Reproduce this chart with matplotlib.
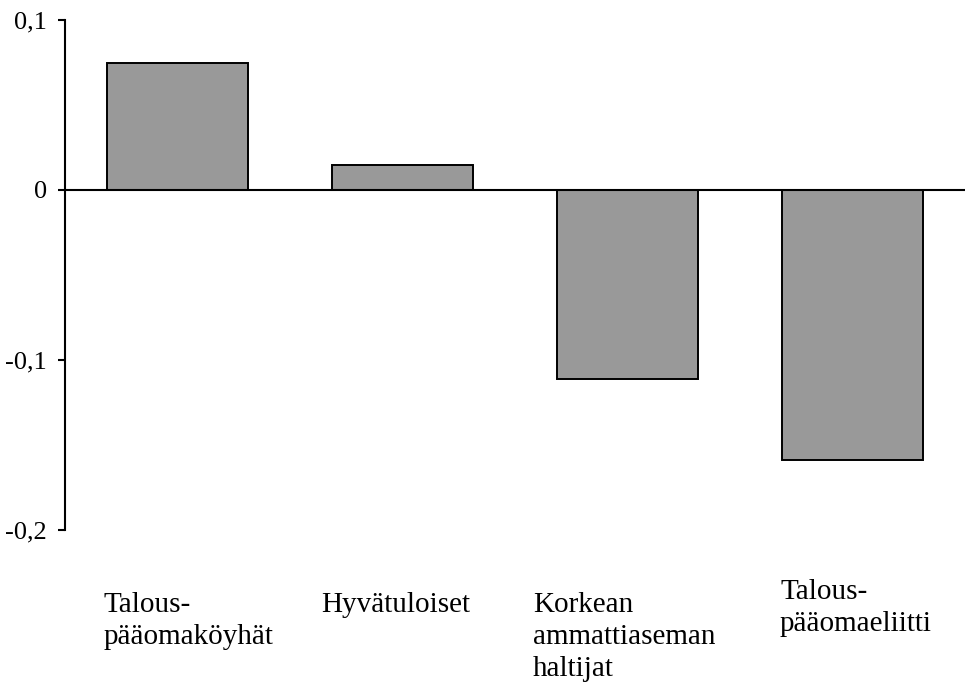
import matplotlib
matplotlib.use('Agg')
import matplotlib.pyplot as plt

# data
groups = ['Talous-\npääomaköyhät', 'Hyvätuloiset', 'Korkean\nammattiaseman\nhaltijat', 'Talous-\npääomaeliitti']
values = [0.075, 0.015, -0.111, -0.159]
yticks = [-0.2, -0.1, 0.0, 0.1]
ytick_labels = ['-0,2', '-0,1', '0', '0,1']

plt.rcParams['font.family'] = ['Liberation Serif', 'DejaVu Serif']

fig = plt.figure(figsize=(9.67, 6.84), dpi=100)
ax = fig.add_axes([65/967, 1 - 530/684, 900/967, 510/684])

x = list(range(len(groups)))
ax.bar(x, values, width=0.627, color='#999999', edgecolor='black', linewidth=1.4, zorder=2)
ax.axhline(0, color='black', linewidth=1.5, zorder=3)

ax.set_xlim(-0.5, 3.5)
ax.set_ylim(-0.2, 0.1)
ax.set_yticks(yticks)
ax.set_yticklabels(ytick_labels, fontsize=19)
ax.tick_params(axis='y', direction='out', length=5, width=1.5, pad=8)
ax.set_xticks([])

for side in ['top', 'right', 'bottom']:
    ax.spines[side].set_visible(False)
ax.spines['left'].set_linewidth(1.5)

# category labels sit below the plot, left aligned
label_x = [-0.327, 0.638, 1.58, 2.678]
label_y = [-0.122, -0.122, -0.122, -0.097]
for lx, ly, name in zip(label_x, label_y, groups):
    ax.text(lx, ly, name, transform=ax.get_xaxis_transform(), ha='left', va='top',
            fontsize=21, linespacing=1.3)

fig.savefig('out.png', dpi=100)
